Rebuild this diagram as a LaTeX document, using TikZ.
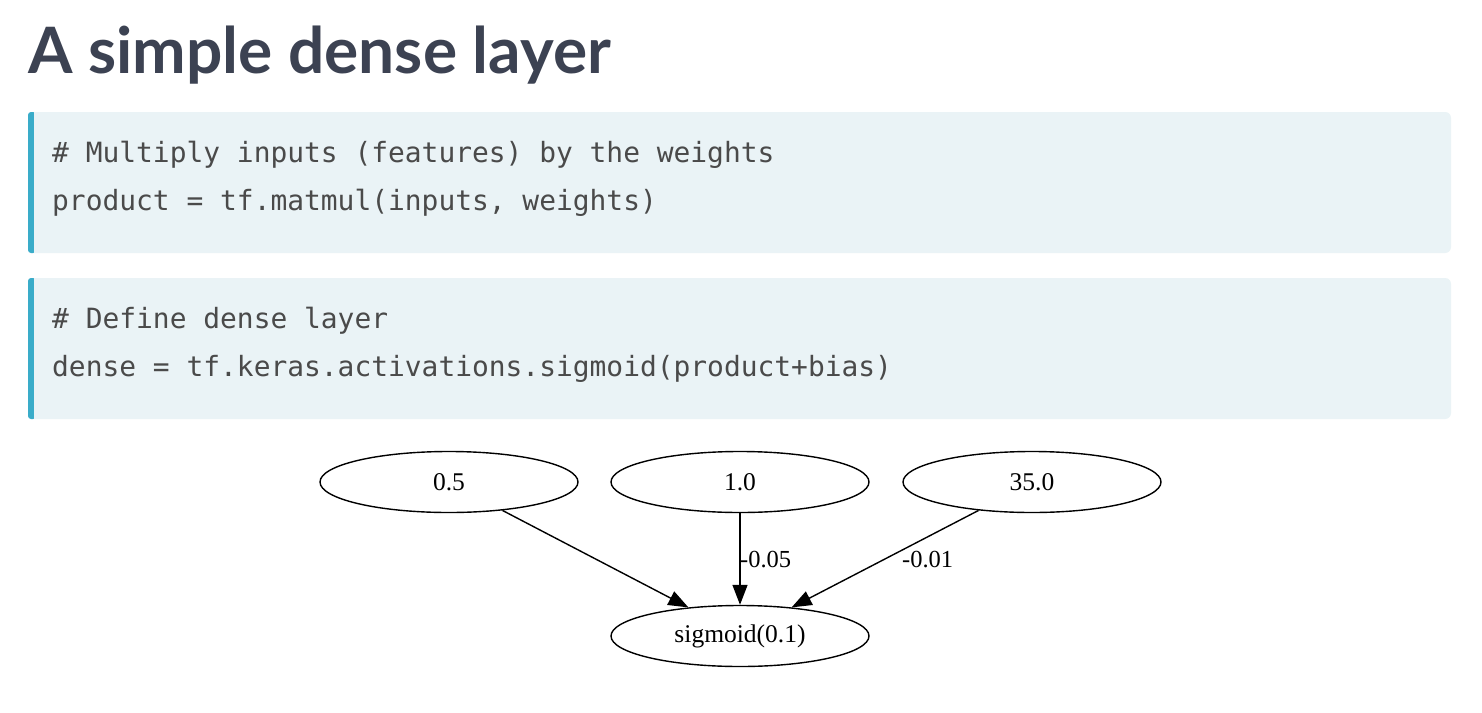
\documentclass[tikz,border=0pt]{standalone}
\usepackage{fontspec}
\setmainfont{Liberation Serif}
\newfontfamily\titlefont{Lato}
\newfontfamily\codefont{DejaVu Sans Mono}
\usetikzlibrary{shapes.geometric,arrows.meta}
\definecolor{titlecol}{HTML}{3C4252}
\definecolor{codebg}{HTML}{EAF3F6}
\definecolor{codebar}{HTML}{3AACC9}
\definecolor{codetxt}{HTML}{4A4A4A}
\tikzset{
  gnode/.style={draw=black, line width=1.4pt, ellipse, minimum width=258pt, minimum height=61pt, inner sep=0pt, font=\fontsize{25.5}{27}\selectfont},
  gedge/.style={draw=black, line width=1.4pt, -{Triangle[length=20pt,width=15pt]}},
  elabel/.style={font=\fontsize{24.5}{26}\selectfont, inner sep=0pt},
  codeline/.style={anchor=base west, inner sep=0pt, text=codetxt, font=\codefont\fontsize{27.9}{30}\selectfont},
}
\begin{document}
\begin{tikzpicture}[x=1pt,y=1pt]
\useasboundingbox[fill=white] (0,0) rectangle (1482,-712);
% title
\node[anchor=base west, inner sep=0pt, text=titlecol, font=\titlefont\bfseries\fontsize{64}{72}\selectfont] (title) at (28,-73) {A simple dense layer};
% code block 1
\fill[codebg, rounded corners=6pt] (28,-112) rectangle (1451,-253);
\fill[codebar, rounded corners=3pt] (28,-112) rectangle (36,-253);
\fill[codebg] (34,-112) rectangle (40,-253);
\node[codeline] (c1a) at (52,-162) {\# Multiply inputs (features) by the weights};
\node[codeline] (c1b) at (52,-210) {product = tf.matmul(inputs, weights)};
% code block 2
\fill[codebg, rounded corners=6pt] (28,-278) rectangle (1451,-419);
\fill[codebar, rounded corners=3pt] (28,-278) rectangle (36,-419);
\fill[codebg] (34,-278) rectangle (40,-419);
\node[codeline] (c2a) at (52,-328) {\# Define dense layer};
\node[codeline] (c2b) at (52,-376) {dense = tf.keras.activations.sigmoid(product+bias)};
% graph
\node[gnode] (a) at (449,-482) {0.5};
\node[gnode] (b) at (740,-482) {1.0};
\node[gnode] (c) at (1032,-482) {35.0};
\node[gnode] (s) at (740,-636) {sigmoid(0.1)};
\draw[gedge] (a.-28) -- (s.151);
\draw[gedge] (b.south) -- (s.north);
\draw[gedge] (c.-152) -- (s.29);
\node[elabel, anchor=west] (l1) at (740,-560) {-0.05};
\node[elabel, anchor=west] (l2) at (902,-560) {-0.01};
\end{tikzpicture}
\end{document}
